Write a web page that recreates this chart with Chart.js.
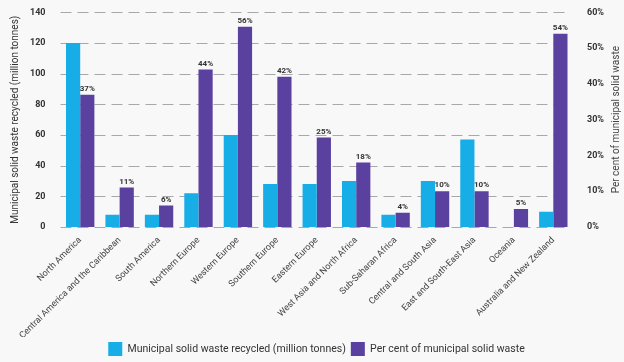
<!DOCTYPE html>
<html>
<head>
<meta charset="utf-8">
<script src="https://cdn.jsdelivr.net/npm/chart.js@4/dist/chart.umd.min.js"></script>
<style>
  html, body { margin: 0; padding: 0; background: #f8f8f8; }
  #wrap { width: 624px; height: 362px; }
</style>
</head>
<body>
<div id="wrap"><canvas id="myChart" width="624" height="362"></canvas></div>
<script>
const regions = [
  'North America', 'Central America and the Caribbean', 'South America',
  'Northern Europe', 'Western Europe', 'Southern Europe', 'Eastern Europe',
  'West Asia and North Africa', 'Sub-Saharan Africa', 'Central and South Asia',
  'East and South-East Asia', 'Oceania', 'Australia and New Zealand'
];
const recycledTonnes = [120, 8, 8, 22, 60, 28, 28, 30, 8, 30, 57, null, 10];
const recycledShare = [37, 11, 6, 44, 56, 42, 25, 18, 4, 10, 10, 5, 54];
const tonnesTicks = [0, 20, 40, 60, 80, 100, 120, 140];
const shareTicks = [0, 10, 20, 30, 40, 50, 60];

const blue = '#17ade6';
const purple = '#5a41a0';

// dashed horizontal guides at each left-axis tick
const dashedGrid = {
  id: 'dashedGrid',
  beforeDatasetsDraw(chart) {
    const { ctx, chartArea } = chart;
    const y = chart.scales.y;
    ctx.save();
    ctx.strokeStyle = '#a8a8a8';
    ctx.lineWidth = 1;
    ctx.setLineDash([11, 6]);
    y.ticks.forEach((t) => {
      const py = Math.round(y.getPixelForValue(t.value)) + 0.5;
      ctx.beginPath();
      ctx.moveTo(chartArea.left, py);
      ctx.lineTo(chartArea.right - 6, py);
      ctx.stroke();
    });
    ctx.restore();
  }
};

// percent labels above the purple bars + right-hand title read bottom-to-top
const barLabels = {
  id: 'barLabels',
  afterDatasetsDraw(chart) {
    const { ctx } = chart;
    const meta = chart.getDatasetMeta(1);
    ctx.save();
    ctx.font = 'bold 8px Roboto';
    ctx.fillStyle = '#333';
    ctx.textAlign = 'center';
    ctx.textBaseline = 'bottom';
    meta.data.forEach((bar, i) => {
      ctx.fillText(recycledShare[i] + '%', bar.x, bar.y - 2);
    });

    const y1 = chart.scales.y1;
    ctx.translate(y1.right - 8, (y1.top + y1.bottom) / 2);
    ctx.rotate(-Math.PI / 2);
    ctx.font = '10px Roboto';
    ctx.fillStyle = '#444';
    ctx.textBaseline = 'middle';
    ctx.fillText('Per cent of municipal solid waste', 0, 0);
    ctx.restore();
  }
};

const ctx = document.getElementById('myChart').getContext('2d');

new Chart(ctx, {
  type: 'bar',
  data: {
    labels: regions,
    datasets: [{
      label: 'Municipal solid waste recycled (million tonnes)',
      data: recycledTonnes,
      backgroundColor: blue,
      yAxisID: 'y'
    }, {
      label: 'Per cent of municipal solid waste',
      data: recycledShare,
      backgroundColor: purple,
      yAxisID: 'y1'
    }]
  },
  options: {
    responsive: false,
    animation: false,
    datasets: {
      bar: { categoryPercentage: 0.72, barPercentage: 1.0 }
    },
    layout: { padding: { left: 9, right: 0, top: 11, bottom: -4 } },
    plugins: {
      legend: {
        position: 'bottom',
        labels: {
          boxWidth: 14,
          boxHeight: 14,
          padding: 5,
          color: '#333',
          font: { family: 'Roboto', size: 10.5 }
        }
      },
      tooltip: { enabled: false }
    },
    scales: {
      x: {
        grid: { display: false },
        border: { display: false },
        afterFit: (scale) => { scale.height -= 4; },
        ticks: {
          minRotation: 45,
          maxRotation: 45,
          autoSkip: false,
          padding: 0,
          color: '#444',
          font: { family: 'Roboto', size: 9 }
        }
      },
      y: {
        position: 'left',
        min: 0,
        max: 140,
        afterBuildTicks: (scale) => { scale.ticks = tonnesTicks.map(v => ({ value: v })); },
        border: { display: false },
        grid: { display: false },
        ticks: {
          padding: 7,
          color: '#333',
          font: { family: 'Roboto', size: 9, weight: 'bold' }
        },
        title: {
          display: true,
          text: 'Municipal solid waste recycled (million tonnes)',
          color: '#333',
          font: { family: 'Roboto', size: 10 },
          padding: { top: 0, bottom: 2 }
        }
      },
      y1: {
        position: 'right',
        min: 0,
        max: 60,
        afterBuildTicks: (scale) => { scale.ticks = shareTicks.map(v => ({ value: v })); },
        border: { display: false },
        grid: { display: false },
        ticks: {
          padding: 6,
          color: '#333',
          font: { family: 'Roboto', size: 9, weight: 'bold' },
          callback: (v) => v + '%'
        },
        title: {
          display: true,
          text: 'Per cent of municipal solid waste',
          color: 'rgba(0,0,0,0)',
          font: { family: 'Roboto', size: 10 },
          padding: { top: 2, bottom: 0 }
        }
      }
    }
  },
  plugins: [dashedGrid, barLabels]
});
</script>
</body>
</html>
